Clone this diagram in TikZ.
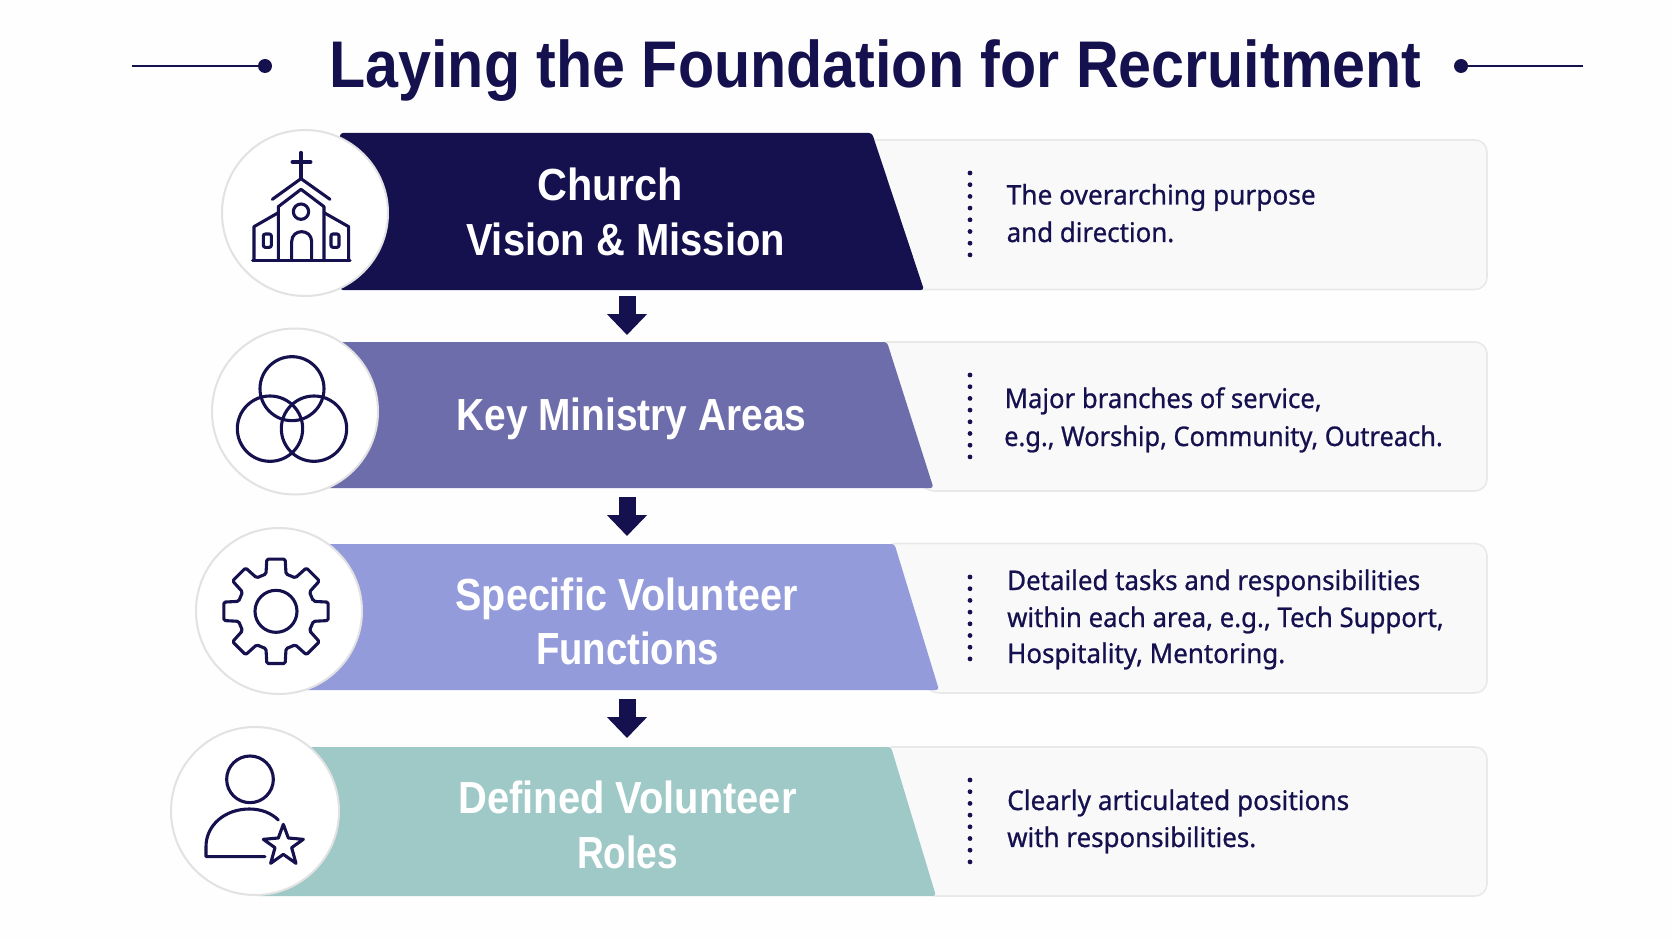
\documentclass[tikz,border=0pt]{standalone}
\usepackage{fontspec}
\usepackage{graphicx}
\usetikzlibrary{arrows.meta}
\setmainfont{Noto Sans}
\newfontfamily\bodyf[FakeBold=0.8]{Noto Sans}
\newfontfamily\headf[Scale=1]{Liberation Sans}
\newcommand{\fitw}[2]{\resizebox{#1pt}{\height}{#2}}
\definecolor{navy}{HTML}{15104E}
\definecolor{barB}{HTML}{6E6DAB}
\definecolor{barC}{HTML}{939BDB}
\definecolor{barD}{HTML}{9EC9C7}
\definecolor{pageF}{HTML}{FEFEFE}
\definecolor{panelF}{HTML}{F9F9FA}
\definecolor{panelL}{HTML}{E9E9EA}
\definecolor{ringL}{HTML}{E2E2E3}
\tikzset{
  panelbox/.style={fill=panelF,draw=panelL,line width=1.6pt,rounded corners=12pt},
  barshape/.style={rounded corners=3pt},
  ring/.style={circle,fill=white,draw=ringL,line width=2pt,inner sep=0pt,minimum size=#1},
  bartext/.style={anchor=base,inner sep=0pt,text=white,font=\headf\bfseries\fontsize{45}{45}\selectfont},
  bodytext/.style={anchor=base west,inner sep=0pt,text=navy,font=\bodyf\fontsize{27}{27}\selectfont},
  flow/.style={draw=navy,line width=17pt,-{Triangle[width=39pt,length=21pt,fill=navy]}},
  dotline/.style={navy,line width=4.8pt,line cap=round,dash pattern=on 0pt off 11.7pt},
  icon/.style={draw=navy,line width=3.1pt,line join=round,line cap=round},
  rule/.style={navy,line width=2.4pt},
}
\begin{document}
\begin{tikzpicture}[x=1pt,y=-1pt]
\useasboundingbox (0,0) rectangle (1672,941);
\fill[pageF] (0,0) rectangle (1672,941);
% title
\node[anchor=base,inner sep=0pt,text=navy,font=\headf\bfseries\fontsize{66}{66}\selectfont] (title) at (875.5,88) {\fitw{1092}{Laying the Foundation for Recruitment}};
\coordinate (tl0) at (132,66); \coordinate (tl1) at (265,66);
\coordinate (tr0) at (1583,66); \coordinate (tr1) at (1461,66);
\draw[rule] (tl0) -- (tl1); \fill[navy] (tl1) circle (7);
\draw[rule] (tr0) -- (tr1); \fill[navy] (tr1) circle (7);
% panels
\draw[panelbox] (860,140) -- (1487,140) -- (1487,289.5) -- (912,289.5) -- cycle;
\draw[panelbox] (875,342) -- (1487,342) -- (1487,491) -- (922,491) -- cycle;
\draw[panelbox] (884,543.5) -- (1487,543.5) -- (1487,693) -- (927,693) -- cycle;
\draw[panelbox] (880,747) -- (1487,747) -- (1487,896) -- (924,896) -- cycle;
% bars
\fill[navy,barshape] (340,133) -- (872,133) -- (924,290) -- (340,290) -- cycle;
\fill[barB,barshape] (295,342) -- (887,342) -- (933.5,488) -- (295,488) -- cycle;
\fill[barC,barshape] (279,544) -- (894.5,544) -- (939,690) -- (279,690) -- cycle;
\fill[barD,barshape] (255,747) -- (891,747) -- (936,896) -- (255,896) -- cycle;
\coordinate (b1bot) at (627,290); \coordinate (b2top) at (627,342);
\coordinate (b2bot) at (627,488); \coordinate (b3top) at (627,544);
\coordinate (b3bot) at (627,690); \coordinate (b4top) at (627,747);
% arrows
\draw[flow,shorten <=6pt,shorten >=7pt] (b1bot) -- (b2top);
\draw[flow,shorten <=9pt,shorten >=8pt] (b2bot) -- (b3top);
\draw[flow,shorten <=9pt,shorten >=9pt] (b3bot) -- (b4top);
% circles
\node[ring=166pt] (c1) at (305,213) {};
\node[ring=166pt] (c2) at (295,411.5) {};
\node[ring=166pt] (c3) at (279,611) {};
\node[ring=168pt] (c4) at (255,811) {};
% bar labels
\node[bartext] (l1a) at (610,201) {\fitw{145}{Church}};
\node[bartext] (l1b) at (625.5,255) {\fitw{319}{Vision \& Mission}};
\node[bartext] (l2a) at (631.5,430) {\fitw{350}{Key Ministry Areas}};
\node[bartext] (l3a) at (626.5,610) {\fitw{342}{Specific Volunteer}};
\node[bartext] (l3b) at (627.5,664) {\fitw{183}{Functions}};
\node[bartext] (l4a) at (627.5,813) {\fitw{338}{Defined Volunteer}};
\node[bartext] (l4b) at (627.5,868) {\fitw{101}{Roles}};
% dotted separators
\draw[dotline] (970,173) -- (970,256);
\draw[dotline] (970,375) -- (970,458);
\draw[dotline] (970,577) -- (970,660);
\draw[dotline] (970,780) -- (970,863);
% descriptions
\node[bodytext] (d1a) at (1006.5,204.5) {\fitw{309}{The overarching purpose}};
\node[bodytext] (d1b) at (1006.5,242) {\fitw{167.5}{and direction.}};
\node[bodytext] (d2a) at (1004.5,408) {\fitw{317}{Major branches of service,}};
\node[bodytext] (d2b) at (1004,446) {\fitw{438.5}{e.g., Worship, Community, Outreach.}};
\node[bodytext] (d3a) at (1007,590) {\fitw{413}{Detailed tasks and responsibilities}};
\node[bodytext] (d3b) at (1007,627) {\fitw{436.5}{within each area, e.g., Tech Support,}};
\node[bodytext] (d3c) at (1007,663) {\fitw{278}{Hospitality, Mentoring.}};
\node[bodytext] (d4a) at (1007,810) {\fitw{342}{Clearly articulated positions}};
\node[bodytext] (d4b) at (1007,847) {\fitw{249}{with responsibilities.}};
% church icon
\begin{scope}[shift={(150,100)},x=0.33333pt,y=-0.33333pt]
\draw[icon,line width=3.6pt] (453,158) -- (453,232) (427,186) -- (482,186);
\draw[icon] (367,298) -- (453,236) -- (540,298);
\draw[icon] (385,480) -- (385,320) -- (453,268) -- (522,320) -- (522,480);
\draw[icon] (385,338) -- (312,380) -- (312,480);
\draw[icon] (522,338) -- (596,380) -- (596,480);
\draw[icon,line width=3.4pt] (308,482) -- (600,482);
\draw[icon] (453,335) circle (23);
\draw[icon] (425,480) -- (425,425) .. controls (425,385) and (485,385) .. (485,425) -- (485,480);
\draw[icon,rounded corners=2pt] (340,402) rectangle (364,442);
\draw[icon,rounded corners=2pt] (543,402) rectangle (567,442);
% venn icon
\draw[icon] (426,866) circle (96);
\draw[icon] (360,986) circle (98);
\draw[icon] (492,986) circle (98);
\end{scope}
% gear and person icons
\begin{scope}[shift={(150,510)},x=0.33333pt,y=-0.33333pt]
\begin{scope}[shift={(378,304)}]
\draw[icon] (63,0) arc[start angle=0,end angle=360,radius=63];
\draw[icon,rounded corners=1.5pt] (-15:116)
  \foreach \a in {0,45,...,315}{ -- (\a-15:116) -- (\a-10:159) -- (\a+10:159) -- (\a+15:116) } -- cycle;
\end{scope}
\draw[icon] (300,808) circle (70);
\draw[icon] (345,1040) -- (168,1040) -- (168,1010) .. controls (168,945) and (225,897) .. (298,897) .. controls (335,897) and (365,910) .. (385,930);
\draw[icon] (400,943) -- (415,984) -- (460,988) -- (425,1013) -- (438,1060) -- (400,1033) -- (362,1060) -- (375,1013) -- (340,988) -- (385,984) -- cycle;
\end{scope}
\end{tikzpicture}
\end{document}
